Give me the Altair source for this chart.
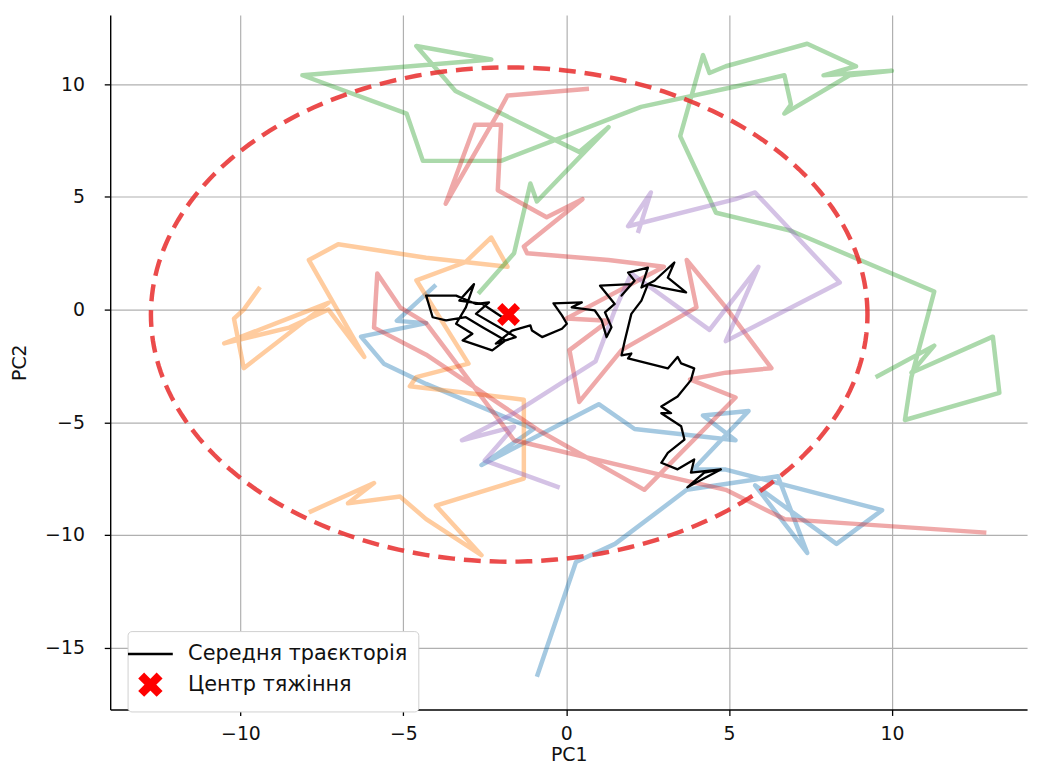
import altair as alt
import numpy as np
import pandas as pd

# ---------------- data ----------------
blue_x = [-4.0, -5.2, -4.3, -6.3, -5.6, -4.3, -1.0, -2.6, 1.0, 2.1, 5.2, 4.2, 5.6, 3.9, 4.9, 9.7, 8.3, 5.8, 7.4, 6.5, 3.7, 1.5, 0.3, -0.9]
blue_y = [1.1, -0.5, -0.6, -1.2, -2.4, -3.3, -5.3, -6.9, -4.2, -5.3, -5.8, -4.7, -4.5, -7.1, -7.1, -8.9, -10.4, -7.8, -10.8, -7.4, -8.0, -10.4, -11.2, -16.3]

orange_x = [-9.4, -9.9, -10.2, -9.9, -7.3, -10.5, -8.5, -7.3, -6.2, -7.9, -7.0, -4.3, -1.8, -2.3, -3.1, -4.6, -3.0, -4.6, -4.8, -1.3, -1.3, -4.0, -2.6, -4.3, -5.1, -6.7, -5.9, -7.9]
orange_y = [1.0, 0.0, -0.4, -2.6, 0.3, -1.5, -0.8, 0.0, -2.1, 2.2, 2.9, 2.3, 1.9, 3.2, 2.1, 1.3, -2.4, -3.0, -3.4, -4.0, -7.5, -8.7, -10.9, -9.3, -8.3, -8.6, -7.7, -9.0]

green_x = [-2.7, -1.6, -1.1, -0.9, 1.3, 0.4, -3.4, -4.6, -2.3, -8.1, -4.9, -4.4, -2.0, 2.3, 5.2, 6.7, 6.9, 6.7, 8.7, 10.0, 7.9, 8.9, 7.4, 4.9, 4.4, 4.2, 3.5, 4.6, 6.9, 11.3, 10.6, 10.4, 13.3, 13.1, 10.6, 11.3, 9.5]
green_y = [0.7, 2.5, 5.6, 4.8, 8.1, 7.0, 9.7, 11.7, 11.1, 10.4, 8.7, 6.6, 6.6, 9.0, 9.9, 10.4, 9.1, 8.7, 10.4, 10.6, 10.4, 10.8, 11.8, 10.8, 10.5, 11.3, 7.7, 4.3, 3.5, 0.8, -3.0, -4.9, -3.7, -1.2, -2.8, -1.6, -3.0]

red_x = [0.7, -1.8, -2.1, -3.7, -2.8, -2.0, -2.1, -0.6, 0.5, -1.3, -1.2, 1.3, 3.0, 0.0, 1.3, 0.1, 0.4, 1.7, 4.0, 3.7, 4.9, 6.3, 4.9, 3.8, 5.2, 2.4, -0.8, -4.3, -5.9, -5.8, -5.1, -4.3, -1.6, 3.1, 4.9, 6.7, 12.9]
red_y = [9.8, 9.5, 8.7, 4.7, 8.2, 8.2, 5.3, 4.1, 4.9, 2.8, 2.5, 2.2, 1.9, -0.4, -0.5, -1.8, -4.1, -1.8, 0.1, 2.2, 0.1, -2.6, -2.8, -3.1, -3.9, -8.0, -5.4, -2.0, -0.8, 1.6, 0.1, -0.6, -5.8, -7.4, -8.0, -9.3, -9.9]

purple_x = [2.2, 2.6, 1.9, 5.2, 5.8, 8.4, 4.9, 5.9, 4.4, 2.0, 1.5, 0.9, -1.6, -3.2, -1.6, -2.5, -0.2]
purple_y = [3.4, 5.2, 3.7, 4.9, 5.2, 1.2, -1.4, 1.9, -0.9, 1.6, 0.0, -2.3, -4.6, -5.8, -5.2, -6.7, -7.9]

mean_x = [-1.96, -2.57, -3.28, -2.83, -3.08, -3.38, -2.88, -3.18, -2.27, -1.86,
          -2.57, -3.08, -3.69, -4.10, -4.30, -3.38, -2.77, -2.37, -2.77, -2.06,
          -1.55, -2.16, -1.66, -1.10, -1.05, -0.74, -0.13, 0.02, -0.13, -0.39,
          0.48, 0.17, 0.88, 1.09, 1.24, 1.39, 1.19, 1.49, 1.04, 2.00,
          1.70, 2.10, 1.90, 2.51, 2.31, 2.71, 3.32, 3.12, 3.68, 2.92,
          2.51, 2.31, 2.00, 1.80, 1.70, 2.00, 1.90, 2.51, 3.12, 3.42,
          3.53, 3.93, 3.83, 3.42, 2.92, 3.22, 2.92, 3.53, 3.63, 3.12,
          2.92, 3.42, 3.93, 3.83, 4.75, 4.24, 3.72, 4.76]
mean_y = [-0.34, 0.25, 0.40, 1.13, 0.10, -0.63, -1.07, -1.37, -1.81, -1.37,
          -0.78, -0.34, -0.48, -0.34, 0.62, 0.62, 0.25, 0.32, -0.19, -0.78,
          -1.22, -1.51, -0.93, -0.70, -0.93, -1.22, -0.85, -0.63, -0.26, 0.28,
          0.32, 0.10, -0.04, -0.48, -1.22, -0.78, -0.12, 0.25, 1.06, 1.13,
          0.62, 1.28, 1.64, 1.86, 0.98, 1.28, 2.09, 1.42, 0.76, 0.98,
          1.13, 0.40, -0.19, -1.37, -2.03, -1.95, -2.17, -2.39, -2.61, -2.10,
          -2.39, -2.61, -3.13, -3.86, -4.30, -4.60, -4.60, -5.18, -5.77, -6.36,
          -6.80, -7.09, -6.65, -7.24, -7.09, -7.24, -7.89, -7.09]

center_x = -1.77
center_y = -0.22

ellipse_cx = -1.75
ellipse_cy = -0.22
ellipse_rx = 11.0
ellipse_ry = 10.97

traj_names = ["t1", "t2", "t3", "t4", "t5"]
traj_colors = ["#1f77b4", "#ff7f0e", "#2ca02c", "#d62728", "#9467bd"]
legend_labels = ["Середня траєкторія", "Центр тяжіння"]

# ---------------- tables ----------------
rows = []
for name, xs, ys in zip(traj_names,
                        [blue_x, orange_x, green_x, red_x, purple_x],
                        [blue_y, orange_y, green_y, red_y, purple_y]):
    for i, (a, b) in enumerate(zip(xs, ys)):
        rows.append({"traj": name, "step": i, "x": a, "y": b})
traj_df = pd.DataFrame(rows)

mean_df = pd.DataFrame({"step": list(range(len(mean_x))), "x": mean_x, "y": mean_y})
center_df = pd.DataFrame({"x": [center_x], "y": [center_y], "label": [legend_labels[1]]})

t = np.linspace(0, 2 * np.pi, 241)
ell_df = pd.DataFrame({"i": np.arange(len(t)),
                       "x": ellipse_cx + ellipse_rx * np.cos(t),
                       "y": ellipse_cy + ellipse_ry * np.sin(t)})

# ---------------- scales / axes ----------------
FONT = "DejaVu Sans"
xscale = alt.Scale(domain=[-14.0, 14.15], nice=False, zero=False)
yscale = alt.Scale(domain=[-17.75, 13.08], nice=False, zero=False)

xaxis = alt.Axis(values=[-10, -5, 0, 5, 10], title="PC1", titlePadding=2,
                 labelPadding=9)
yaxis = alt.Axis(values=[-15, -10, -5, 0, 5, 10], title="PC2", titlePadding=15,
                 labelPadding=20)

X = alt.X("x:Q", scale=xscale, axis=xaxis)
Y = alt.Y("y:Q", scale=yscale, axis=yaxis)

line_path = "M-2.15,0L2.15,0"
x_path = ("M-0.6,-1L0,-0.4L0.6,-1L1,-0.6L0.4,0L1,0.6L0.6,1L0,0.4"
          "L-0.6,1L-1,0.6L-0.4,0L-1,-0.6Z")

# ---------------- layers ----------------
trajs = alt.Chart(traj_df).mark_line(strokeWidth=4.5, opacity=0.4,
                                     strokeJoin="round", clip=True).encode(
    x=X, y=Y,
    detail="traj:N",
    order="step:Q",
    color=alt.Color("traj:N", scale=alt.Scale(domain=traj_names, range=traj_colors),
                    legend=None),
)

ellipse = alt.Chart(ell_df).mark_line(color="#e82c2c", opacity=0.85, strokeWidth=4.5,
                                      strokeDash=[17, 9], clip=True).encode(
    x=X, y=Y, order="i:Q"
)

mean_line = alt.Chart(mean_df).mark_line(color="black", strokeWidth=2.3,
                                         strokeJoin="round").encode(
    x=X, y=Y, order="step:Q"
)

legend = alt.Legend(title=None, orient="none", legendX=17.5, legendY=621,
                    padding=11, fillColor="white", strokeColor="#d0d0d0",
                    cornerRadius=4, labelFont=FONT, labelFontSize=21,
                    labelColor="#111111", labelLimit=0, symbolSize=441,
                    symbolStrokeWidth=2.5, symbolOpacity=1, labelOffset=26,
                    rowPadding=5)

center = alt.Chart(center_df).mark_point(filled=True, size=441, opacity=1,
                                         strokeWidth=1.5).encode(
    x=X, y=Y,
    fill=alt.Fill("label:N", scale=alt.Scale(domain=legend_labels, range=["black", "red"]),
                  legend=legend),
    stroke=alt.Stroke("label:N", scale=alt.Scale(domain=legend_labels, range=["black", "red"]),
                      legend=legend),
    shape=alt.Shape("label:N", scale=alt.Scale(domain=legend_labels, range=[line_path, x_path]),
                    legend=legend),
)

chart = alt.layer(trajs, ellipse, mean_line, center).properties(
    width=924, height=700,
    autosize=alt.AutoSizeParams(type="none"),
    padding={"left": 103, "top": 4, "right": 8, "bottom": 54},
).configure_view(stroke=None).configure_axis(
    grid=True, gridColor="#b0b0b0", gridWidth=1.2,
    domainColor="black", domainWidth=1.4,
    tickColor="black", tickSize=6, tickWidth=1.3,
    labelFont=FONT, labelFontSize=19, labelColor="#111111",
    titleFont=FONT, titleFontSize=19, titleColor="#111111", titleFontWeight="normal",
)

chart.save("out.html", embed_options={"renderer": "svg", "actions": False})
